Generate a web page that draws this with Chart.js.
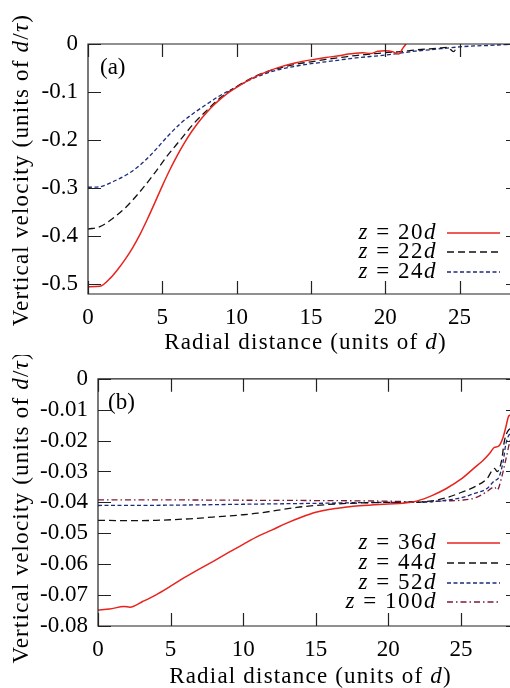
<!DOCTYPE html>
<html>
<head>
<meta charset="utf-8">
<script src="https://cdn.jsdelivr.net/npm/chart.js@4.4.1/dist/chart.umd.min.js"></script>
<style>
  html, body { margin: 0; padding: 0; background: #fff; overflow: hidden; width: 510px; height: 688px; }
  canvas { position: absolute; left: 0; }
  #chartA { top: 0; }
  #chartB { top: 355px; }
</style>
</head>
<body>
<canvas id="chartA" width="520" height="355"></canvas>
<canvas id="chartB" width="520" height="333"></canvas>
<script>
// panel (a) : z = 20d, 22d, 24d
const xa20 = [0, 0.8, 1.5, 2, 2.5, 3, 3.5, 4, 4.5, 5, 5.5, 6, 6.5, 7, 7.5, 8, 8.5, 9, 9.5, 10, 11, 12, 13, 14, 15, 16, 17, 17.5, 18, 18.5, 19, 19.5, 20, 20.5, 20.9, 21.2, 21.4];
const ya20 = [-0.505, -0.504, -0.487, -0.469, -0.448, -0.424, -0.396, -0.364, -0.330, -0.295, -0.262, -0.232, -0.205, -0.181, -0.160, -0.142, -0.126, -0.112, -0.100, -0.090, -0.072, -0.058, -0.047, -0.039, -0.033, -0.028, -0.024, -0.021, -0.019, -0.018, -0.020, -0.015, -0.014, -0.016, -0.021, -0.008, 0];
const xa22 = [0, 0.8, 1.7, 2.6, 3.5, 4.4, 5.3, 6.2, 7.1, 8, 8.9, 10, 11, 12, 13, 14, 15, 16, 17, 18, 19, 20, 21, 22, 23, 23.8, 24.2, 24.6, 24.8];
const ya22 = [-0.385, -0.380, -0.362, -0.338, -0.307, -0.272, -0.234, -0.200, -0.166, -0.138, -0.112, -0.089, -0.071, -0.058, -0.049, -0.042, -0.037, -0.032, -0.028, -0.024, -0.021, -0.018, -0.016, -0.0125, -0.010, -0.008, -0.007, -0.016, -0.007];
const xa24 = [0, 0.8, 1.7, 2.6, 3.5, 4.4, 5.3, 6.2, 7.1, 8, 8.9, 10, 11, 12, 13, 14, 15, 16, 17, 18, 19, 20, 21, 22, 23, 24, 25, 26, 27, 28.5, 29];
const ya24 = [-0.298, -0.297, -0.286, -0.272, -0.252, -0.225, -0.194, -0.166, -0.144, -0.125, -0.107, -0.089, -0.073, -0.061, -0.052, -0.046, -0.041, -0.037, -0.033, -0.029, -0.026, -0.023, -0.019, -0.015, -0.012, -0.009, -0.006, -0.004, -0.003, -0.001, -0.001];

// panel (b) : z = 36d, 44d, 52d, 100d
const xb36 = [0, 0.8, 1.8, 2.2, 3.1, 4, 5, 6, 7, 8, 9, 10, 11, 12, 13, 14, 15, 16, 17, 18, 19, 20, 21, 22, 23, 24, 25, 26, 26.5, 27, 27.3, 27.6, 27.9, 28.1, 28.3, 28.6];
const yb36 = [-0.0748, -0.0745, -0.0737, -0.0739, -0.0720, -0.0699, -0.0671, -0.0642, -0.0615, -0.0589, -0.0562, -0.0536, -0.0510, -0.0489, -0.0467, -0.0448, -0.0432, -0.0422, -0.0416, -0.0411, -0.0408, -0.0405, -0.0403, -0.0395, -0.0378, -0.0355, -0.0325, -0.0285, -0.0265, -0.0240, -0.0222, -0.0218, -0.0190, -0.0155, -0.0120, -0.0115];
const xb44 = [0, 2, 4, 6.3, 8.6, 10, 11, 12.3, 13.7, 15, 16.4, 18, 20, 22, 23, 24, 25, 26, 26.8, 27.3, 27.5, 27.8, 28, 28.3, 28.6];
const yb44 = [-0.0458, -0.0459, -0.0458, -0.0453, -0.0445, -0.0440, -0.0435, -0.0426, -0.0416, -0.0410, -0.0405, -0.0402, -0.0400, -0.0399, -0.0395, -0.0385, -0.0368, -0.0348, -0.0323, -0.0290, -0.0300, -0.0265, -0.0200, -0.0165, -0.0160];
const xb52 = [0, 5, 10, 15, 20, 22, 23, 24, 25, 26, 26.8, 27.3, 27.6, 27.9, 28.1, 28.4, 28.6];
const yb52 = [-0.0410, -0.0409, -0.0406, -0.0403, -0.0400, -0.0400, -0.0398, -0.0393, -0.0385, -0.0370, -0.0355, -0.0330, -0.0320, -0.0270, -0.0210, -0.0175, -0.0170];
const xb100 = [0, 5, 10, 15, 20, 22, 24, 25, 26, 26.8, 27.3, 27.5, 27.8, 28.1, 28.4, 28.6];
const yb100 = [-0.0392, -0.0392, -0.0393, -0.0394, -0.0396, -0.0398, -0.0395, -0.0393, -0.0385, -0.0365, -0.0350, -0.0360, -0.0320, -0.0260, -0.0200, -0.0190];

const FONT = '"Liberation Serif", "Times New Roman", serif';
Chart.defaults.font.family = FONT;
Chart.defaults.color = '#000';

const styles = {
  red:   { borderColor: '#e8231d', borderWidth: 1.5, borderDash: [] },
  black: { borderColor: '#111111', borderWidth: 1.3, borderDash: [7, 4] },
  blue:  { borderColor: '#1b2b7d', borderWidth: 1.3, borderDash: [4, 2.5] },
  wine:  { borderColor: '#7d1a33', borderWidth: 1.3, borderDash: [6, 3, 1.5, 3] }
};

function series(label, xs, ys, style) {
  return Object.assign({
    label: label,
    data: xs.map((x, i) => ({ x: x, y: ys[i] })),
    pointRadius: 0,
    fill: false,
    cubicInterpolationMode: 'monotone'
  }, style);
}

// draw text made of roman / italic pieces
function drawParts(ctx, parts, x, y, align, size) {
  const fonts = parts.map(p => (p[1] ? 'italic ' : '') + size + 'px ' + FONT);
  let total = 0;
  parts.forEach((p, i) => { ctx.font = fonts[i]; total += ctx.measureText(p[0]).width; });
  let cx = align === 'right' ? x - total : (align === 'center' ? x - total / 2 : x);
  ctx.textAlign = 'left';
  parts.forEach((p, i) => { ctx.font = fonts[i]; ctx.fillText(p[0], cx, y); cx += ctx.measureText(p[0]).width; });
}

const framePlugin = {
  id: 'frame',
  afterDatasetsDraw(chart, args, opts) {
    const { ctx, chartArea: a, scales: { x, y } } = chart;
    ctx.save();
    ctx.strokeStyle = '#222';
    ctx.lineWidth = 1.2;
    ctx.setLineDash([]);
    ctx.beginPath();
    x.ticks.forEach(t => {
      const px = Math.round(x.getPixelForValue(t.value)) + 0.5;
      ctx.moveTo(px, a.bottom); ctx.lineTo(px, a.bottom - 13);
      ctx.moveTo(px, a.top); ctx.lineTo(px, a.top + 13);
    });
    y.ticks.forEach(t => {
      const py = Math.round(y.getPixelForValue(t.value)) + 0.5;
      ctx.moveTo(a.left, py); ctx.lineTo(a.left + 13, py);
      ctx.moveTo(a.right, py); ctx.lineTo(a.right - 13, py);
    });
    ctx.rect(a.left, a.top, a.width, a.height);
    ctx.stroke();

    ctx.fillStyle = '#000';
    ctx.textBaseline = 'middle';
    // panel tag
    drawParts(ctx, [[opts.tag, false]], a.left + opts.tagDx, a.top + opts.tagDy, 'left', 23);

    // legend: "z = NNd" then line sample
    ctx.letterSpacing = '1.5px';
    chart.data.datasets.forEach((ds, i) => {
      const ly = opts.legendY[i];
      const num = ds.label.replace(/^z = /, '').replace(/d$/, '');
      drawParts(ctx, [['z', true], [' = ' + num, false], ['d', true]], 437, ly, 'right', 23);
      ctx.beginPath();
      ctx.strokeStyle = ds.borderColor;
      ctx.lineWidth = ds.borderWidth;
      ctx.setLineDash(ds.borderDash);
      ctx.moveTo(447, ly); ctx.lineTo(500, ly);
      ctx.stroke();
    });
    ctx.setLineDash([]);

    // axis titles
    ctx.letterSpacing = '1.2px';
    drawParts(ctx, [['Radial distance (units of ', false], ['d', true], [')', false]],
      (a.left + a.right) / 2 + 2, a.bottom + opts.xTitleDy, 'center', 23);
    ctx.translate(22, (a.top + a.bottom) / 2 + opts.yTitleDy);
    ctx.rotate(-Math.PI / 2);
    drawParts(ctx, [['Vertical velocity (units of ', false], ['d', true], ['/', false], ['τ', true], [')', false]],
      0, 0, 'center', 23);
    ctx.restore();
  }
};

function makeChart(id, datasets, yMin, yStep, digits, axisW, axisH, topPad, frameOpts) {
  return new Chart(document.getElementById(id), {
    type: 'line',
    data: { datasets: datasets },
    options: {
      responsive: false,
      animation: false,
      layout: { padding: { top: topPad, right: 1, left: 0, bottom: 0 } },
      plugins: { legend: { display: false }, tooltip: { enabled: false }, frame: frameOpts },
      scales: {
        x: {
          type: 'linear', min: 0, max: 29,
          ticks: { stepSize: 5, includeBounds: false, padding: 10, font: { size: 23 }, maxRotation: 0,
                   callback: v => String(v) },
          grid: { display: false, drawTicks: false },
          border: { display: false },
          afterFit: s => { s.height = axisH; }
        },
        y: {
          type: 'linear', min: yMin, max: 0,
          ticks: { stepSize: yStep, includeBounds: false, padding: 10, font: { size: 23 },
                   callback: v => (Math.abs(v) < 1e-9 ? '0' : v.toFixed(digits)) },
          grid: { display: false, drawTicks: false },
          border: { display: false },
          afterFit: s => { s.width = axisW; }
        }
      }
    },
    plugins: [framePlugin]
  });
}

makeChart('chartA', [
  series('z = 20d', xa20, ya20, styles.red),
  series('z = 22d', xa22, ya22, styles.black),
  series('z = 24d', xa24, ya24, styles.blue)
], -0.52, 0.1, 1, 88, 61, 44,
  { tag: '(a)', tagDx: 12, tagDy: 24, legendY: [233, 252, 272], xTitleDy: 49, yTitleDy: 1 });

makeChart('chartB', [
  series('z = 36d', xb36, yb36, styles.red),
  series('z = 44d', xb44, yb44, styles.black),
  series('z = 52d', xb52, yb52, styles.blue),
  series('z = 100d', xb100, yb100, styles.wine)
], -0.08, 0.01, 2, 98, 62, 20,
  { tag: '(b)', tagDx: 10, tagDy: 24, legendY: [188, 208, 228, 247], xTitleDy: 51, yTitleDy: 5 });
</script>
</body>
</html>
